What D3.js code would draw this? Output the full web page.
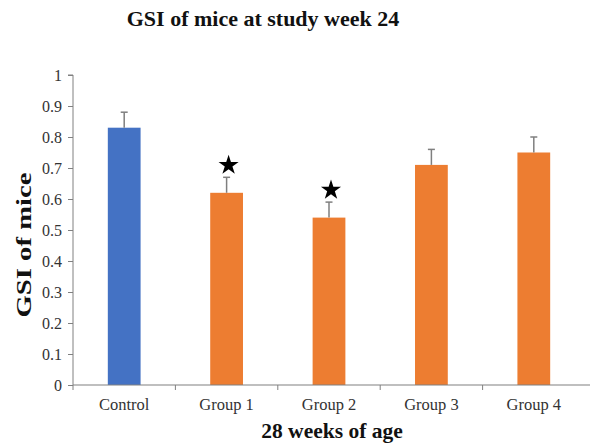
<!DOCTYPE html>
<html><head><meta charset="utf-8">
<script src="https://cdn.jsdelivr.net/npm/d3@7/dist/d3.min.js"></script>
<style>body{margin:0;background:#fff}</style>
</head><body>
<svg id="c" width="590" height="444"></svg>
<script>
const categories = ["Control", "Group 1", "Group 2", "Group 3", "Group 4"];
const values = [0.83, 0.62, 0.54, 0.71, 0.75];
const errors = [0.05, 0.05, 0.05, 0.05, 0.05];
const significant = [false, true, true, false, false];
const colors = ["#4472C4", "#ED7D31", "#ED7D31", "#ED7D31", "#ED7D31"];
const yTicks = [0, 0.1, 0.2, 0.3, 0.4, 0.5, 0.6, 0.7, 0.8, 0.9, 1];

(function(){
const svg = d3.select("#c");
const mLeft = 73, mRight = 585, mTop = 75, mBottom = 385;
const serif = "'Liberation Serif','Times New Roman',serif";

const x = d3.scaleBand().domain(categories).range([mLeft, mRight]).paddingInner(0.68).paddingOuter(0.34);
const y = d3.scaleLinear().domain([0, 1]).range([mBottom, mTop]);

// bars
svg.selectAll("rect.bar").data(categories).join("rect")
  .attr("x", d => x(d)).attr("width", x.bandwidth())
  .attr("y", (d,i) => y(values[i])).attr("height", (d,i) => y(0) - y(values[i]))
  .attr("fill", (d,i) => colors[i]);

// error bars
const eg = svg.append("g").attr("stroke", "#7f7f7f").attr("stroke-width", 1.5);
categories.forEach((c,i) => {
  const cx = x(c) + x.bandwidth()/2;
  eg.append("line").attr("x1", cx).attr("x2", cx).attr("y1", y(values[i])).attr("y2", y(values[i]+errors[i]));
  eg.append("line").attr("x1", cx-3.5).attr("x2", cx+3.5).attr("y1", y(values[i]+errors[i])).attr("y2", y(values[i]+errors[i]));
});

// stars
const star = d3.symbol().type(d3.symbolStar).size(125);
categories.forEach((c,i) => {
  if (!significant[i]) return;
  const cx = x(c) + x.bandwidth()/2 + 2;
  svg.append("path").attr("d", star()).attr("fill", "#000")
    .attr("transform", `translate(${cx},${y(values[i]+errors[i]) - 12})`);
});

// y axis
const yAxis = d3.axisLeft(y).tickValues(yTicks).tickSize(5).tickFormat(d => String(+d.toFixed(1)));
const gy = svg.append("g").attr("transform", `translate(${mLeft},0)`).call(yAxis);
gy.attr("font-family", serif).attr("font-size", 16);
gy.select(".domain").attr("stroke", "#808080").attr("d", `M-5,${mTop}H0V${mBottom}`);
gy.selectAll(".tick line").attr("stroke", "#808080");
gy.selectAll(".tick text").attr("fill", "#333").attr("x", -11);

// x axis
const gx = svg.append("g").attr("transform", `translate(0,${mBottom})`);
gx.append("line").attr("x1", mLeft).attr("x2", mRight + 5).attr("stroke", "#808080").attr("stroke-width", 1.2);
const bounds = categories.map(c => x(c) - x.step()*x.paddingInner()/2);
gx.selectAll("line.t").data(bounds).join("line").attr("class","t")
  .attr("x1", d => d).attr("x2", d => d).attr("y1", 0).attr("y2", 5).attr("stroke", "#808080");
gx.selectAll("text").data(categories).join("text")
  .attr("x", d => x(d) + x.bandwidth()/2).attr("y", 25).attr("text-anchor", "middle")
  .attr("font-family", serif).attr("font-size", 16.5).attr("fill", "#333").text(d => d);

// titles
svg.append("text").attr("x", 263).attr("y", 26).attr("text-anchor", "middle")
  .attr("font-family", serif).attr("font-weight", "bold").attr("font-size", 22).attr("fill", "#111")
  .text("GSI of mice at study week 24");
svg.append("text").attr("x", 332).attr("y", 438).attr("text-anchor", "middle")
  .attr("font-family", serif).attr("font-weight", "bold").attr("font-size", 21.5).attr("fill", "#111")
  .text("28 weeks of age");
svg.append("text").attr("transform", "translate(31,245) rotate(-90) scale(1.4,1)").attr("text-anchor", "middle")
  .attr("font-family", serif).attr("font-weight", "bold").attr("font-size", 20.5).attr("fill", "#111")
  .text("GSI of mice");
})();
</script>
</body></html>
